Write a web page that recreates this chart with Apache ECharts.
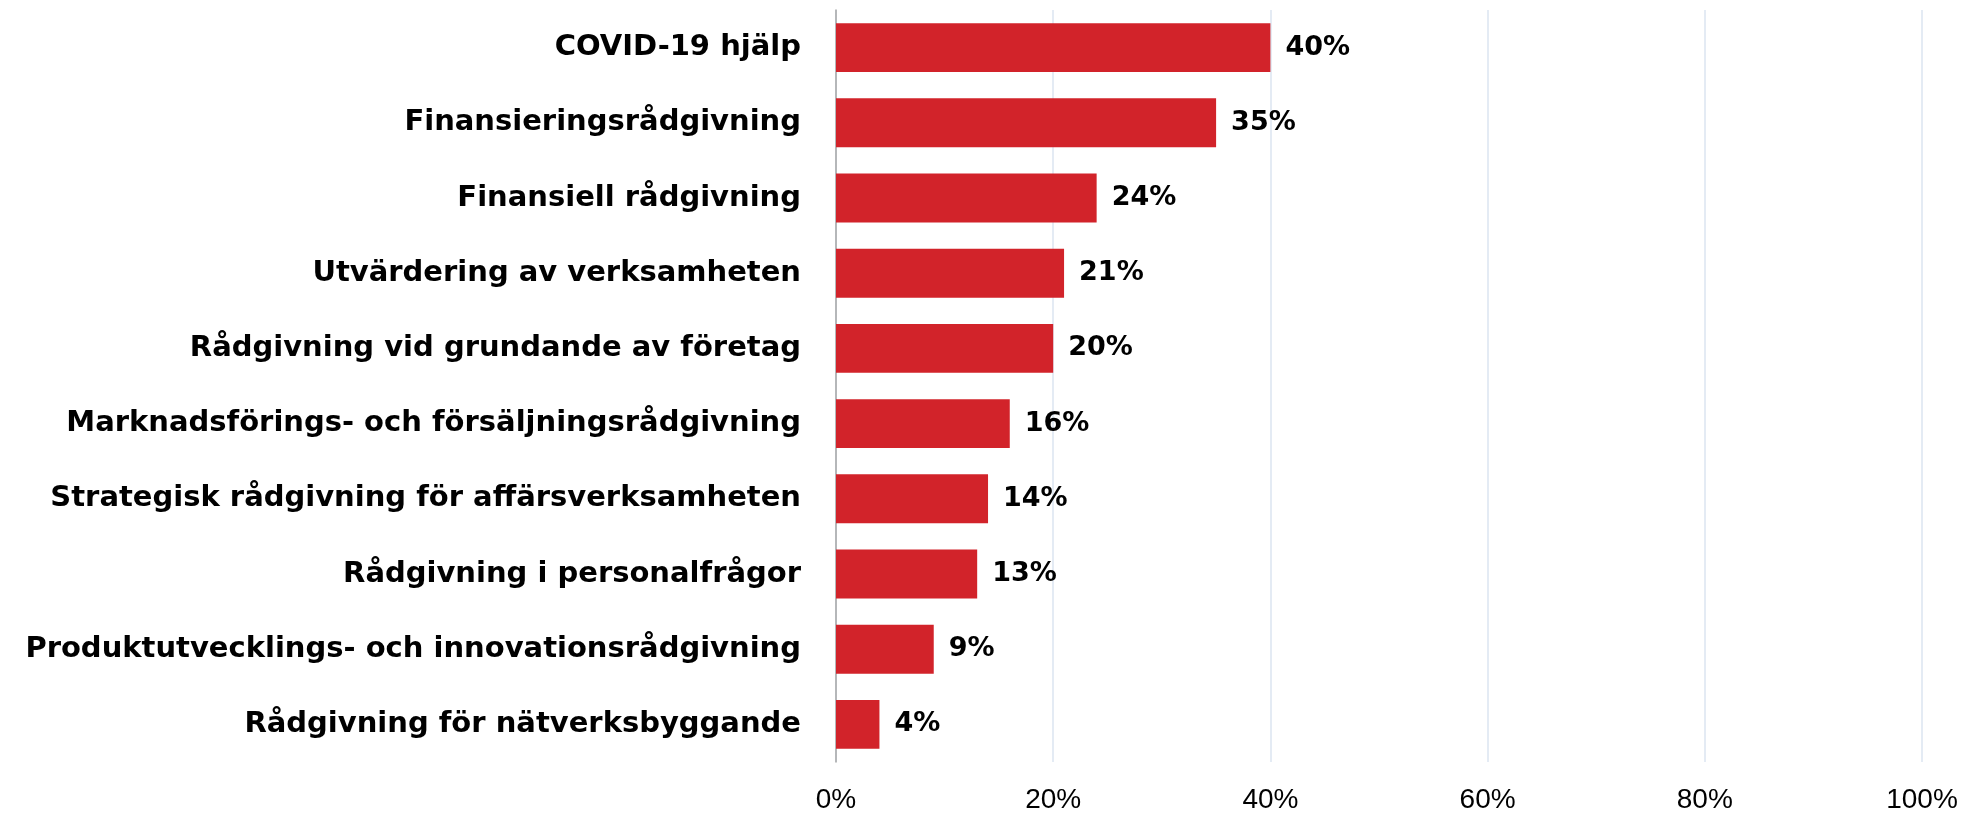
<!DOCTYPE html>
<html>
<head>
<meta charset="utf-8">
<script src="https://cdn.jsdelivr.net/npm/echarts@6/dist/echarts.min.js"></script>
<style>
  html, body { margin: 0; padding: 0; background: #fff; }
  #chart { width: 1985px; height: 814px; }
</style>
</head>
<body>
<div id="chart"></div>
<script>
// kategorier och andelar (%)
const categories = [
  'COVID-19 hjälp',
  'Finansieringsrådgivning',
  'Finansiell rådgivning',
  'Utvärdering av verksamheten',
  'Rådgivning vid grundande av företag',
  'Marknadsförings- och försäljningsrådgivning',
  'Strategisk rådgivning för affärsverksamheten',
  'Rådgivning i personalfrågor',
  'Produktutvecklings- och innovationsrådgivning',
  'Rådgivning för nätverksbyggande'
]
const values = [40, 35, 24, 21, 20, 16, 14, 13, 9, 4]
const xTicks = [0, 20, 40, 60, 80, 100]

const myChart = echarts.init(document.getElementById('chart'))

const option = {
  animation: false,
  grid: {
    left: 836,
    right: 63,
    top: 10,
    bottom: 52
  },
  xAxis: {
    type: 'value',
    min: xTicks[0],
    max: xTicks[xTicks.length - 1],
    interval: 20,
    axisLine: { show: false },
    axisTick: { show: false },
    splitLine: {
      lineStyle: { color: '#dbe5f1', width: 1.5 }
    },
    axisLabel: {
      formatter: '{value}%',
      color: '#000',
      fontFamily: 'Liberation Sans',
      fontSize: 28,
      margin: 24
    }
  },
  yAxis: {
    type: 'category',
    inverse: true,
    data: categories,
    axisLine: {
      show: true,
      lineStyle: { color: '#a6a6a6', width: 1.5 }
    },
    axisTick: { show: false },
    axisLabel: {
      color: '#000',
      fontFamily: 'DejaVu Sans',
      fontWeight: 'bold',
      fontSize: 29,
      margin: 35
    }
  },
  series: [
    {
      type: 'bar',
      data: values,
      barCategoryGap: '35%',
      itemStyle: { color: '#d2232a' },
      label: {
        show: true,
        position: 'right',
        distance: 15,
        formatter: '{c}%',
        color: '#000',
        fontFamily: 'DejaVu Sans',
        fontWeight: 'bold',
        fontSize: 27
      }
    }
  ]
}

myChart.setOption(option)
</script>
</body>
</html>
